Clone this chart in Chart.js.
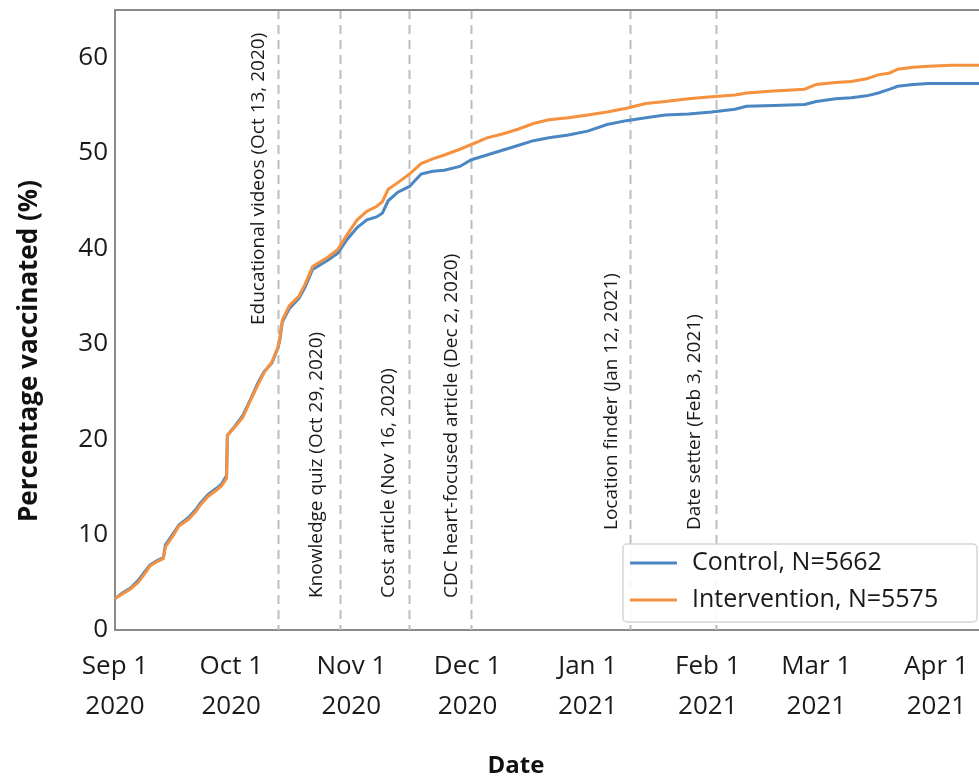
<!DOCTYPE html>
<html>
<head>
<meta charset="utf-8">
<script src="https://cdn.jsdelivr.net/npm/chart.js@4.4.1/dist/chart.umd.min.js"></script>
<style>
    html, body { margin: 0; padding: 0; background: #fff; }
    #wrap { width: 979px; height: 778px; }
</style>
</head>
<body>
<div id="wrap"><canvas id="vaxChart" width="979" height="778"></canvas></div>
<script>
// days since Sep 1 2020
const days = [0, 2, 4, 6, 7.5, 9, 11, 12.5, 13, 15, 16.5, 19, 21, 22, 24, 26, 27.5, 28.8, 29, 31, 33, 35, 37, 38.5,
    40.5, 42, 42.5, 43.2, 45, 47.5, 49, 51, 53, 55, 57.5, 60, 62.5, 65, 67.5, 69, 70.5, 73, 76, 79, 82, 85, 89, 92,
    96, 100, 104, 108, 112, 117, 122, 127, 132, 137, 142, 148, 154, 160, 163, 170, 178, 181, 186, 190, 194, 197,
    200, 202, 206, 210, 216, 223];

const controlValues = [3.3, 3.9, 4.4, 5.2, 6.0, 6.8, 7.3, 7.6, 8.9, 10.1, 11.0, 11.8, 12.7, 13.3, 14.2, 14.8, 15.3,
    16.2, 20.4, 21.4, 22.5, 24.2, 26.0, 27.1, 28.0, 29.5, 30.3, 32.3, 33.7, 34.8, 35.9, 37.8, 38.3, 38.8, 39.5,
    41.0, 42.2, 43.0, 43.3, 43.7, 45.0, 45.9, 46.5, 47.8, 48.1, 48.2, 48.6, 49.3, 49.8, 50.3, 50.8, 51.3, 51.6,
    51.9, 52.3, 53.0, 53.4, 53.7, 54.0, 54.1, 54.3, 54.6, 54.9, 55.0, 55.1, 55.4, 55.7, 55.8, 56.0, 56.3, 56.7,
    57.0, 57.2, 57.3, 57.3, 57.3];

const interventionValues = [3.3, 3.8, 4.3, 5.0, 5.8, 6.7, 7.2, 7.5, 8.7, 9.9, 10.9, 11.6, 12.5, 13.1, 14.0, 14.6,
    15.1, 15.9, 20.4, 21.3, 22.3, 24.1, 25.8, 27.0, 28.1, 29.6, 30.5, 32.5, 34.0, 35.0, 36.2, 38.1, 38.6, 39.1,
    39.9, 41.5, 43.0, 43.9, 44.4, 44.9, 46.2, 46.9, 47.8, 48.9, 49.4, 49.8, 50.4, 50.9, 51.6, 52.0, 52.5, 53.1,
    53.5, 53.7, 54.0, 54.3, 54.7, 55.2, 55.4, 55.7, 55.9, 56.1, 56.3, 56.5, 56.7, 57.2, 57.4, 57.5, 57.8, 58.2,
    58.4, 58.8, 59.0, 59.1, 59.2, 59.2];

const monthTickDays = [0, 30, 61, 91, 122, 153, 181, 212];
const monthTickLabels = [['Sep 1', '2020'], ['Oct 1', '2020'], ['Nov 1', '2020'], ['Dec 1', '2020'],
    ['Jan 1', '2021'], ['Feb 1', '2021'], ['Mar 1', '2021'], ['Apr 1', '2021']];

const eventDays = [42, 58, 76, 92, 133, 155];
const eventLabels = ['Educational videos (Oct 13, 2020)', 'Knowledge quiz (Oct 29, 2020)',
    'Cost article (Nov 16, 2020)', 'CDC heart-focused article (Dec 2, 2020)',
    'Location finder (Jan 12, 2021)', 'Date setter (Feb 3, 2021)'];

const FONT = "'Open Sans', sans-serif";
const BLUE = '#4a87c2';
const ORANGE = '#f5913f';

const toPoints = vals => days.map((d, i) => ({ x: d, y: vals[i] }));

// dashed event lines, rotated labels, titles, legend
const decorPlugin = {
    id: 'decor',
    beforeDatasetsDraw(chart) {
        const { ctx, chartArea, scales } = chart;
        ctx.save();
        ctx.strokeStyle = '#bdbdbd';
        ctx.lineWidth = 2;
        ctx.setLineDash([9, 6]);
        eventDays.forEach(d => {
            const x = Math.round(scales.x.getPixelForValue(d)) + 0.5;
            ctx.beginPath();
            ctx.moveTo(x, chartArea.top);
            ctx.lineTo(x, chartArea.bottom);
            ctx.stroke();
        });
        ctx.restore();

        // label positions: [offset left of line, bottom y]
        const labelPos = [[19, 325], [23, 598], [21, 598], [20, 598], [19, 530], [21, 530]];
        ctx.save();
        ctx.fillStyle = '#1a1a1a';
        ctx.font = '19px ' + FONT;
        ctx.textBaseline = 'middle';
        ctx.textAlign = 'left';
        eventDays.forEach((d, i) => {
            const x = scales.x.getPixelForValue(d) - labelPos[i][0];
            ctx.save();
            ctx.translate(x, labelPos[i][1]);
            ctx.rotate(-Math.PI / 2);
            ctx.fillText(eventLabels[i], 0, 0);
            ctx.restore();
        });
        ctx.restore();
    },
    afterDraw(chart) {
        const { ctx, chartArea } = chart;
        ctx.save();
        // top frame line
        ctx.strokeStyle = '#8a8a8a';
        ctx.lineWidth = 2;
        ctx.beginPath();
        ctx.moveTo(chartArea.left, chartArea.top);
        ctx.lineTo(chartArea.right, chartArea.top);
        ctx.stroke();

        // axis titles
        ctx.fillStyle = '#111';
        ctx.font = 'bold 24px ' + FONT;
        ctx.textAlign = 'center';
        ctx.textBaseline = 'middle';
        ctx.fillText('Date', 516, 766);
        ctx.font = 'bold 26px ' + FONT;
        ctx.save();
        ctx.translate(30, 351);
        ctx.rotate(-Math.PI / 2);
        ctx.fillText('Percentage vaccinated (%)', 0, 0);
        ctx.restore();

        // legend
        const lx = 623, ly = 544, lw = 354, lh = 78;
        ctx.fillStyle = 'rgba(255,255,255,0.9)';
        ctx.strokeStyle = '#d6d6d6';
        ctx.lineWidth = 1.5;
        ctx.beginPath();
        ctx.roundRect(lx, ly, lw, lh, 4);
        ctx.fill();
        ctx.stroke();
        const items = [[chart.data.datasets[0].label, BLUE, 563], [chart.data.datasets[1].label, ORANGE, 600]];
        ctx.textAlign = 'left';
        ctx.font = '25px ' + FONT;
        items.forEach(([txt, col, y]) => {
            ctx.strokeStyle = col;
            ctx.lineWidth = 3;
            ctx.beginPath();
            ctx.moveTo(630, y);
            ctx.lineTo(677, y);
            ctx.stroke();
            ctx.fillStyle = '#1a1a1a';
            ctx.fillText(txt, 692, y);
        });
        ctx.restore();
    }
};

new Chart(document.getElementById('vaxChart').getContext('2d'), {
    type: 'line',
    data: {
        datasets: [
            {
                label: 'Control, N=5662',
                data: toPoints(controlValues),
                borderColor: BLUE,
                borderWidth: 3,
                pointRadius: 0,
                order: 1
            },
            {
                label: 'Intervention, N=5575',
                data: toPoints(interventionValues),
                borderColor: ORANGE,
                borderWidth: 3,
                pointRadius: 0,
                order: 0
            }
        ]
    },
    options: {
        responsive: false,
        animation: false,
        layout: { padding: { top: 0, right: 0, left: 0, bottom: 0 } },
        plugins: { legend: { display: false }, tooltip: { enabled: false } },
        scales: {
            x: {
                type: 'linear',
                min: 0,
                max: 223,
                afterBuildTicks: s => { s.ticks = monthTickDays.map(v => ({ value: v })); },
                afterFit: s => { s.height = 148; },
                ticks: {
                    callback: (v, i) => monthTickLabels[i],
                    font: { family: FONT, size: 26, lineHeight: 1.55 },
                    color: '#1a1a1a',
                    maxRotation: 0,
                    autoSkip: false,
                    padding: 10
                },
                grid: { display: false, drawTicks: true, tickLength: 6, tickColor: '#7a7a7a' },
                border: { color: '#8a8a8a', width: 2 }
            },
            y: {
                min: 0,
                max: 65,
                afterBuildTicks: s => { s.ticks = [0, 10, 20, 30, 40, 50, 60].map(v => ({ value: v })); },
                afterFit: s => { s.width = 115; s.paddingTop = 10; s.paddingBottom = 0; },
                ticks: {
                    font: { family: FONT, size: 26 },
                    color: '#1a1a1a',
                    padding: 1
                },
                grid: { display: false, drawTicks: true, tickLength: 6, tickColor: '#7a7a7a' },
                border: { color: '#8a8a8a', width: 2 }
            }
        }
    },
    plugins: [decorPlugin]
});
</script>
</body>
</html>
